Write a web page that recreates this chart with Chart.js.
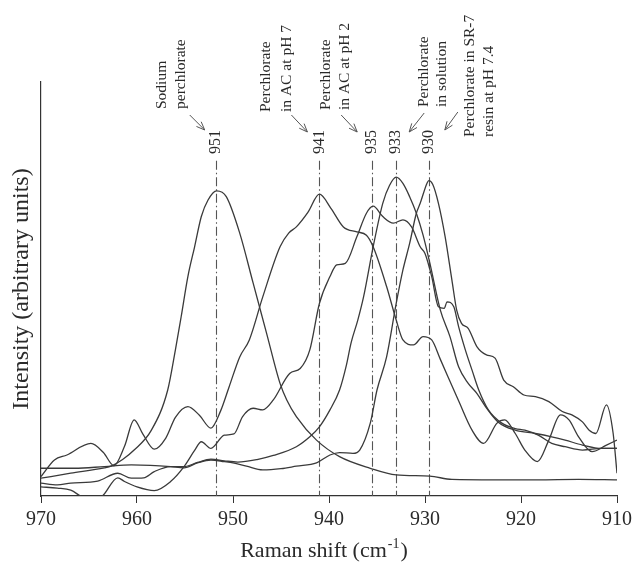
<!DOCTYPE html>
<html lang="en">
<head>
    <meta charset="UTF-8">
    <title>Raman spectra of perchlorate</title>
    <script src="https://cdn.jsdelivr.net/npm/chart.js@4"></script>
    <style>
        * { margin: 0; padding: 0; box-sizing: border-box; }
        body { background: #fff; width: 632px; height: 565px; overflow: hidden; }
        #wrap { position: relative; width: 632px; height: 565px; }
    </style>
</head>
<body>
    <div id="wrap"><canvas id="raman" width="632" height="565"></canvas></div>

    <script>
        // Raman shift (cm-1) and intensity (arbitrary, 0-100)
        const sodiumShift = [970, 966.9, 963.4, 962.7, 961.5, 960.3, 958.5, 956.8, 956.0, 955.4, 954.7, 954.0, 953.3, 952.6, 951.7, 950.7, 949.3, 947.9, 946.5, 945.1, 944.4, 943.4, 941.3, 938.9, 935.7, 933.0, 929.5, 927.2, 922.7, 918.3, 914.0, 910];
        const sodiumInt = [4.3, 5.5, 6.8, 7.2, 8.8, 11.1, 15.9, 25.6, 35.3, 43.3, 53.0, 60.2, 67.5, 71.5, 73.7, 72.3, 63.5, 51.4, 39.3, 27.2, 23.2, 19.2, 13.5, 9.5, 6.7, 5.1, 4.8, 4.0, 3.9, 3.9, 4.0, 3.9];

        const acPh7Shift = [970, 968.6, 967.3, 964.8, 963.5, 962.4, 961.3, 960.3, 959.4, 958.2, 957.0, 956.0, 954.7, 953.5, 952.3, 951.3, 950.4, 949.3, 948.3, 946.9, 945.1, 944.2, 943.4, 942.2, 941.0, 939.8, 938.5, 937.1, 936.1, 935.4, 934.0, 933.0, 932.3, 931.2, 930.2, 929.3, 928.4, 926.5, 925.1, 923.9, 922.5, 921.7, 920.6, 919.6, 918.3, 917.1, 915.9, 915.0, 914.0, 912.6, 911.1, 910];
        const acPh7Int = [4.7, 8.7, 9.9, 12.7, 10.5, 7.3, 12.0, 18.4, 15.0, 11.3, 14.0, 19.0, 21.6, 19.5, 16.4, 20.5, 26.4, 33.6, 37.7, 48.1, 60.2, 63.5, 65.0, 68.5, 72.9, 69.5, 65.0, 63.8, 63.0, 60.2, 50.6, 42.5, 37.7, 36.5, 38.5, 37.7, 33.0, 23.0, 15.9, 12.7, 17.6, 18.4, 15.1, 11.1, 8.3, 13.5, 19.6, 18.4, 14.3, 10.7, 12.3, 13.5];

        const acPh2Shift = [970, 968.3, 966.9, 965.9, 964.8, 963.6, 962.0, 961.3, 960.0, 958.2, 956.5, 955.1, 954.0, 953.3, 952.3, 950.9, 949.9, 949.0, 947.9, 946.9, 945.8, 944.1, 943.0, 942.0, 941.0, 939.9, 939.2, 938.3, 937.1, 936.1, 935.4, 934.4, 933.3, 932.3, 931.4, 930.5, 930.0, 929.3, 928.6, 928.0, 927.7, 927.0, 926.5, 925.8, 925.1, 924.4, 923.4, 922.0, 920.6, 919.6, 918.2, 916.8, 915.4, 913.6, 911.6, 910];
        const acPh2Int = [2.2, 1.9, 1.4, 0, -1.5, 0, 4.4, 3.5, 2.2, 1.3, 3.5, 7.1, 11.0, 13.1, 11.5, 14.7, 15.0, 19.2, 21.2, 20.8, 23.2, 29.6, 30.8, 35.3, 46.5, 53.0, 55.8, 56.2, 62.6, 68.3, 70.0, 67.5, 65.9, 66.7, 65.0, 60.2, 58.6, 53.0, 45.7, 45.3, 46.9, 45.7, 40.9, 35.3, 30.4, 25.6, 20.8, 17.6, 16.3, 15.9, 14.7, 12.7, 11.9, 11.1, 11.5, 11.5];

        const solutionShift = [970, 968.3, 966.9, 964.1, 962.0, 960.6, 959.3, 958.2, 956.5, 955.1, 953.7, 952.3, 950.9, 949.5, 947.5, 945.8, 943.4, 942.0, 941.0, 939.9, 938.9, 938.2, 937.7, 937.0, 936.4, 935.4, 934.4, 933.7, 933.0, 932.3, 931.6, 930.9, 930.2, 929.5, 928.4, 927.4, 926.5, 925.5, 924.6, 923.7, 922.4, 920.6, 918.5, 916.8, 915.4, 913.6, 911.6, 910];
        const solutionInt = [3.1, 2.7, 3.1, 3.6, 5.5, 4.3, 4.4, 5.9, 7.1, 7.1, 8.1, 8.9, 8.5, 8.2, 8.8, 9.8, 11.9, 14.3, 16.7, 20.8, 25.6, 31.5, 37.0, 42.5, 48.1, 60.2, 70.7, 75.0, 77.0, 75.5, 72.3, 68.3, 63.0, 56.3, 44.9, 38.5, 31.2, 27.2, 24.8, 21.6, 17.9, 15.9, 15.1, 14.3, 13.5, 12.3, 11.5, 11.5];

        const resinShift = [970, 966.5, 963.4, 960.6, 958.6, 956.5, 955.1, 953.7, 952.3, 950.9, 950.0, 948.6, 946.9, 945.0, 943.4, 941.3, 939.9, 938.9, 937.5, 936.8, 935.7, 935.0, 934.0, 933.0, 932.3, 931.6, 930.9, 930.5, 929.8, 929.6, 929.2, 928.6, 927.9, 927.2, 926.7, 926.2, 925.5, 924.6, 923.6, 922.7, 921.8, 920.8, 919.7, 918.5, 917.1, 915.7, 914.7, 913.6, 912.9, 912.2, 911.1, 910.4, 910];
        const resinInt = [6.7, 6.7, 7.1, 7.5, 7.4, 7.1, 6.8, 8.0, 8.7, 8.3, 8.0, 7.2, 6.3, 6.6, 7.2, 8.0, 9.9, 10.5, 10.3, 11.1, 17.6, 25.6, 33.6, 46.5, 54.6, 61.0, 68.3, 70.7, 75.5, 76.2, 75.3, 70.7, 62.6, 52.2, 44.9, 41.7, 40.5, 36.1, 34.1, 33.3, 28.0, 26.4, 24.4, 24.0, 22.8, 20.4, 19.6, 17.9, 15.9, 15.1, 22.0, 15.1, 5.5];

        // peak markers (dash-dot lines) and their labels
        const peakShifts = [951.8, 941.0, 935.5, 933.0, 929.6];
        const peakLabels = ['951', '941', '935', '933', '930'];
        const peakNotes = [
            ['Sodium', 'perchlorate'],
            ['Perchlorate', 'in AC at pH 7'],
            ['Perchlorate', 'in AC at pH 2'],
            ['Perchlorate', 'in solution'],
            ['Perchlorate in SR-7', 'resin at pH 7.4']
        ];
        const xTicks = [970, 960, 950, 940, 930, 920, 910];

        const SERIF = "'Liberation Serif', 'Times New Roman', serif";
        const INK = '#2a2a2a';
        const CURVE = '#3a3a3a';

        const toPoints = (xs, ys) => xs.map((v, i) => ({ x: v, y: ys[i] }));
        const spectrum = (xs, ys) => ({
            data: toPoints(xs, ys),
            borderColor: CURVE,
            borderWidth: 1.3,
            pointRadius: 0,
            fill: false,
            cubicInterpolationMode: 'monotone'
        });

        // note placement relative to each marker line: text column centres, bottom of text, arrow
        const noteLayout = [
            { cols: [-54, -35], bottom: 109, arrow: [-26, 115, -11, 130] },
            { cols: [-53, -32], bottom: 112, arrow: [-28, 115, -12, 132] },
            { cols: [-46, -27], bottom: 110, arrow: [-31, 115, -15, 132] },
            { cols: [28, 46], bottom: 107, arrow: [28, 113, 13, 132] },
            { cols: [41, 60], bottom: 137, arrow: [29, 112, 16, 130] }
        ];

        function vText(ctx, str, cx, bottom, font, align) {
            ctx.save();
            ctx.translate(cx, bottom);
            ctx.rotate(-Math.PI / 2);
            ctx.font = font;
            ctx.fillStyle = INK;
            ctx.textAlign = align || 'left';
            ctx.textBaseline = 'middle';
            ctx.fillText(str, 0, 0);
            ctx.restore();
        }

        function arrow(ctx, x1, y1, x2, y2) {
            const a = Math.atan2(y2 - y1, x2 - x1);
            const len = 9, spread = 0.38;
            ctx.save();
            ctx.strokeStyle = '#555';
            ctx.lineWidth = 1;
            ctx.beginPath();
            ctx.moveTo(x1, y1);
            ctx.lineTo(x2, y2);
            ctx.moveTo(x2 - len * Math.cos(a - spread), y2 - len * Math.sin(a - spread));
            ctx.lineTo(x2, y2);
            ctx.lineTo(x2 - len * Math.cos(a + spread), y2 - len * Math.sin(a + spread));
            ctx.stroke();
            ctx.restore();
        }

        const markers = {
            id: 'markers',
            beforeDatasetsDraw(chart) {
                const { ctx, scales: { x, y } } = chart;
                ctx.save();
                ctx.strokeStyle = '#555';
                ctx.lineWidth = 1.1;
                ctx.setLineDash([9, 3, 1.5, 3]);
                peakShifts.forEach(s => {
                    const px = Math.round(x.getPixelForValue(s)) + 0.5;
                    ctx.beginPath();
                    ctx.moveTo(px, y.getPixelForValue(81));
                    ctx.lineTo(px, y.getPixelForValue(0));
                    ctx.stroke();
                });
                ctx.restore();
            },
            afterDraw(chart) {
                const { ctx, scales: { x, y } } = chart;
                peakShifts.forEach((s, i) => {
                    const px = x.getPixelForValue(s);
                    vText(ctx, peakLabels[i], px, 154, '16px ' + SERIF);
                    const lay = noteLayout[i];
                    peakNotes[i].forEach((line, j) => {
                        vText(ctx, line, px + lay.cols[j], lay.bottom, '15.5px ' + SERIF);
                    });
                    const a = lay.arrow;
                    arrow(ctx, px + a[0], a[1], px + a[2], a[3]);
                });

                // axis titles
                vText(ctx, 'Intensity (arbitrary units)', 22, (y.top + y.bottom) / 2, '24px ' + SERIF, 'center');

                ctx.save();
                ctx.fillStyle = INK;
                ctx.textBaseline = 'alphabetic';
                const big = '22px ' + SERIF, small = '14px ' + SERIF;
                const p1 = 'Raman shift (cm', p2 = '-1', p3 = ')';
                ctx.font = big;
                const w1 = ctx.measureText(p1).width, w3 = ctx.measureText(p3).width;
                ctx.font = small;
                const w2 = ctx.measureText(p2).width;
                const cx = (x.left + x.right) / 2 - 6;
                let tx = cx - (w1 + w2 + w3) / 2;
                const base = 557;
                ctx.font = big;
                ctx.fillText(p1, tx, base);
                ctx.font = small;
                ctx.fillText(p2, tx + w1 + 1, base - 9);
                ctx.font = big;
                ctx.fillText(p3, tx + w1 + w2 + 2, base);
                ctx.restore();
            }
        };

        new Chart(document.getElementById('raman'), {
            type: 'line',
            data: {
                datasets: [
                    spectrum(sodiumShift, sodiumInt),
                    spectrum(acPh7Shift, acPh7Int),
                    spectrum(acPh2Shift, acPh2Int),
                    spectrum(solutionShift, solutionInt),
                    spectrum(resinShift, resinInt)
                ]
            },
            options: {
                responsive: false,
                animation: false,
                layout: { padding: { left: 41, right: 15, top: 82, bottom: 0 } },
                plugins: { legend: { display: false }, tooltip: { enabled: false } },
                scales: {
                    x: {
                        type: 'linear',
                        reverse: true,
                        min: 910,
                        max: 970,
                        afterBuildTicks: s => { s.ticks = xTicks.map(v => ({ value: v })); },
                        afterFit: s => { s.height = 69; s.paddingLeft = 0; s.paddingRight = 0; },
                        ticks: {
                            autoSkip: false,
                            maxRotation: 0,
                            padding: 5,
                            color: INK,
                            font: { family: SERIF, size: 20 }
                        },
                        grid: { drawOnChartArea: false, drawTicks: true, tickLength: 7, color: '#333', lineWidth: 1 },
                        border: { color: '#333', width: 1.2 }
                    },
                    y: {
                        min: 0,
                        max: 100,
                        afterFit: s => { s.width = 0; },
                        ticks: { display: false },
                        grid: { display: false, drawTicks: false },
                        border: { color: '#333', width: 1.2 }
                    }
                }
            },
            plugins: [markers]
        });
    </script>
</body>
</html>
